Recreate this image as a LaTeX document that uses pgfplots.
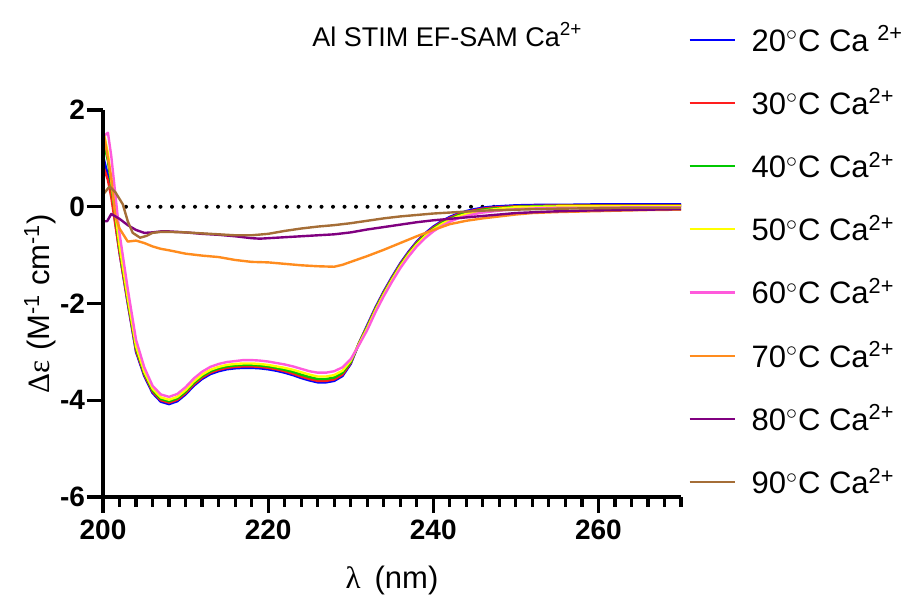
\documentclass[border=0pt]{standalone}
\usepackage{pgfplots}
\pgfplotsset{compat=1.18}
\usepackage{pgfplotstable}
\usepackage{fontspec}
\setmainfont{Liberation Sans}
\newfontfamily\symfont{Liberation Serif}

\definecolor{c20}{RGB}{0,0,255}
\definecolor{c30}{RGB}{255,30,30}
\definecolor{c40}{RGB}{0,200,0}
\definecolor{c50}{RGB}{255,255,0}
\definecolor{c60}{RGB}{255,90,220}
\definecolor{c70}{RGB}{255,140,30}
\definecolor{c80}{RGB}{128,0,128}
\definecolor{c90}{RGB}{165,110,55}

\pgfplotsset{
    cdframe/.style={
        scale only axis,
        width=289pt,
        height=193.5pt,
        xmin=200, xmax=270,
        ymin=-6, ymax=2,
        axis x line*=bottom,
        axis y line*=left,
        axis line style={line width=2pt},
        xtick={200,220,240,260},
        minor xtick={202,204,...,218,222,224,...,238,242,244,...,258,262,264,266,268,270},
        ytick={-6,-4,-2,0,2},
        tick align=outside,
        major tick length=8pt,
        minor tick length=5pt,
        xtick style={black, line width=1.6pt},
        ytick style={black, line width=1.6pt},
        minor tick style={black, line width=1.6pt},
    },
}

% folded spectra, 20-60 C
\pgfplotstableread{
x     b      r      g      y      p
200   1.05   0.85   1.40   1.60   1.45
200.6 0.65   0.55   0.95   1.10   1.53
201   0.30   0.20   0.45   0.55   1.05
202  -0.95  -0.95  -0.85  -0.80  -0.55
203  -2.00  -1.98  -1.92  -1.88  -1.70
204  -3.00  -2.97  -2.92  -2.88  -2.75
205  -3.50  -3.47  -3.44  -3.41  -3.32
206  -3.85  -3.82  -3.79  -3.76  -3.70
207  -4.03  -4.00  -3.97  -3.94  -3.88
208  -4.08  -4.05  -4.02  -3.99  -3.93
209  -4.02  -3.99  -3.96  -3.93  -3.87
210  -3.88  -3.85  -3.82  -3.79  -3.73
211  -3.70  -3.67  -3.64  -3.61  -3.55
212  -3.56  -3.53  -3.50  -3.47  -3.41
213  -3.46  -3.43  -3.40  -3.37  -3.31
214  -3.40  -3.37  -3.34  -3.31  -3.25
215  -3.36  -3.33  -3.30  -3.27  -3.21
216  -3.34  -3.31  -3.28  -3.25  -3.19
217  -3.33  -3.30  -3.27  -3.24  -3.17
218  -3.33  -3.30  -3.27  -3.24  -3.17
219  -3.34  -3.31  -3.28  -3.25  -3.18
220  -3.36  -3.33  -3.30  -3.27  -3.20
221  -3.39  -3.36  -3.33  -3.30  -3.23
222  -3.43  -3.40  -3.37  -3.33  -3.26
223  -3.48  -3.45  -3.41  -3.37  -3.30
224  -3.54  -3.51  -3.47  -3.42  -3.35
225  -3.59  -3.56  -3.52  -3.47  -3.40
226  -3.63  -3.60  -3.56  -3.51  -3.43
227  -3.63  -3.60  -3.56  -3.51  -3.43
228  -3.60  -3.57  -3.53  -3.48  -3.40
229  -3.50  -3.47  -3.43  -3.39  -3.32
230  -3.25  -3.23  -3.21  -3.18  -3.15
231  -2.82  -2.82  -2.83  -2.84  -2.86
232  -2.45  -2.47  -2.49  -2.51  -2.55
233  -2.08  -2.10  -2.12  -2.14  -2.18
234  -1.75  -1.77  -1.79  -1.81  -1.85
235  -1.45  -1.47  -1.49  -1.51  -1.55
236  -1.17  -1.19  -1.21  -1.23  -1.27
237  -0.93  -0.95  -0.97  -0.99  -1.03
238  -0.72  -0.74  -0.76  -0.78  -0.82
239  -0.55  -0.57  -0.59  -0.61  -0.65
240  -0.41  -0.43  -0.45  -0.47  -0.51
241  -0.30  -0.32  -0.34  -0.36  -0.40
242  -0.21  -0.23  -0.25  -0.27  -0.31
243  -0.14  -0.16  -0.18  -0.20  -0.24
244  -0.09  -0.11  -0.13  -0.15  -0.19
245  -0.05  -0.07  -0.09  -0.11  -0.15
246  -0.02  -0.04  -0.06  -0.08  -0.12
247   0.00  -0.02  -0.04  -0.06  -0.10
248   0.01  -0.01  -0.03  -0.04  -0.08
250   0.03   0.01   0.00  -0.01  -0.05
253   0.04   0.02   0.01   0.00  -0.03
256   0.04   0.03   0.02   0.01  -0.02
260   0.05   0.03   0.02   0.01  -0.02
265   0.05   0.03   0.02   0.01  -0.01
270   0.05   0.03   0.02   0.01  -0.01
}\folded

\pgfplotstableread{
x     y
200   1.60
201   0.60
201.5 -0.20
202  -0.45
203  -0.72
204  -0.70
205  -0.75
206  -0.82
207  -0.87
208  -0.90
210  -0.97
212  -1.01
214  -1.04
216  -1.10
218  -1.14
220  -1.15
222  -1.18
224  -1.21
226  -1.23
228  -1.24
229  -1.20
230  -1.14
232  -1.02
234  -0.89
236  -0.75
238  -0.61
240  -0.48
242  -0.36
244  -0.29
246  -0.24
248  -0.20
250  -0.16
252  -0.13
255  -0.11
260  -0.09
265  -0.07
270  -0.06
}\tseventy

\pgfplotstableread{
x     y
200  -0.30
200.5 -0.30
201  -0.15
202  -0.25
203  -0.38
204  -0.48
205  -0.54
206  -0.53
207  -0.51
208  -0.51
210  -0.53
212  -0.56
214  -0.58
216  -0.61
218  -0.65
219  -0.66
220  -0.65
222  -0.63
224  -0.61
226  -0.59
228  -0.57
230  -0.53
232  -0.47
234  -0.42
236  -0.37
238  -0.32
240  -0.28
242  -0.25
244  -0.22
246  -0.19
248  -0.16
250  -0.13
254  -0.10
258  -0.08
262  -0.07
266  -0.06
270  -0.05
}\teighty

\pgfplotstableread{
x     y
200   0.25
200.8 0.42
201.5 0.30
202.4 0.05
203  -0.30
203.6 -0.54
204.5 -0.64
205.3 -0.60
206  -0.54
207  -0.52
208  -0.52
210  -0.53
212  -0.55
214  -0.57
216  -0.59
218  -0.59
220  -0.56
222  -0.50
224  -0.45
226  -0.41
228  -0.38
230  -0.34
232  -0.29
234  -0.24
236  -0.20
238  -0.17
240  -0.14
242  -0.12
244  -0.10
246  -0.08
250  -0.06
255  -0.04
260  -0.03
265  -0.02
270  -0.02
}\tninety

\begin{document}
\begin{tikzpicture}
\begin{axis}[
    name=ax,
    cdframe,
    xticklabels={\textbf{200},\textbf{220},\textbf{240},\textbf{260}},
    yticklabels={\textbf{-6},\textbf{-4},\textbf{-2},\textbf{0},\textbf{2}},
    ticklabel style={font=\fontsize{14}{16}\selectfont},
    yticklabel style={xshift=2.5pt},
    xlabel={{\symfont λ}\hspace{0.45em}(nm)},
    ylabel={{\symfont Δε}\hspace{0.3em}(M\textsuperscript{-1} cm\textsuperscript{-1})},
    label style={font=\fontsize{15.5}{17}\selectfont},
    xlabel style={at={(axis description cs:0.5,-0.215)}, anchor=center},
    ylabel style={at={(axis description cs:-0.109,0.5)}, anchor=center},
    title={Al STIM EF-SAM Ca\textsuperscript{2+}},
    title style={font=\fontsize{13.5}{15}\selectfont, at={(axis description cs:0.830,1.134)}, anchor=base east, inner sep=0pt},
    legend cell align=left,
    legend image code/.code={\draw[#1, line width=1.1pt] (0pt,0pt) -- (22.5pt,0pt);},
    legend style={draw=none, fill=none, at={(axis description cs:1.0018,1.235)}, anchor=north west,
        font=\fontsize{15.5}{18}\selectfont, row sep=15.3pt,
        nodes={inner sep=1pt},
        /tikz/every odd column/.append style={column sep=7pt}},
    every axis plot/.append style={line width=1.2pt, line join=round},
]
\addplot[forget plot, black, line width=2pt, line cap=round, dash pattern=on 0pt off 5.75pt] coordinates {(200,0) (270,0)};
\addplot[c20] table[x=x, y=b] {\folded};
\addplot[c30] table[x=x, y=r] {\folded};
\addplot[c40] table[x=x, y=g] {\folded};
\addplot[c50] table[x=x, y=y] {\folded};
\addplot[c60] table[x=x, y=p] {\folded};
\addplot[c70] table[x=x, y=y] {\tseventy};
\addplot[c80] table[x=x, y=y] {\teighty};
\addplot[c90] table[x=x, y=y] {\tninety};
\legend{
    20$^{\circ}$C Ca \textsuperscript{2+},
    30$^{\circ}$C Ca\textsuperscript{2+},
    40$^{\circ}$C Ca\textsuperscript{2+},
    50$^{\circ}$C Ca\textsuperscript{2+},
    60$^{\circ}$C Ca\textsuperscript{2+},
    70$^{\circ}$C Ca\textsuperscript{2+},
    80$^{\circ}$C Ca\textsuperscript{2+},
    90$^{\circ}$C Ca\textsuperscript{2+}}
\end{axis}
% frame only: axis lines and tick marks drawn again on top
\begin{axis}[
    cdframe,
    xticklabels={},
    yticklabels={},
]
\end{axis}
\pgfresetboundingbox
\path ([shift={(-51.5pt,-53pt)}]ax.south west) rectangle ([shift={(114pt,55pt)}]ax.north east);
\end{tikzpicture}
\end{document}
